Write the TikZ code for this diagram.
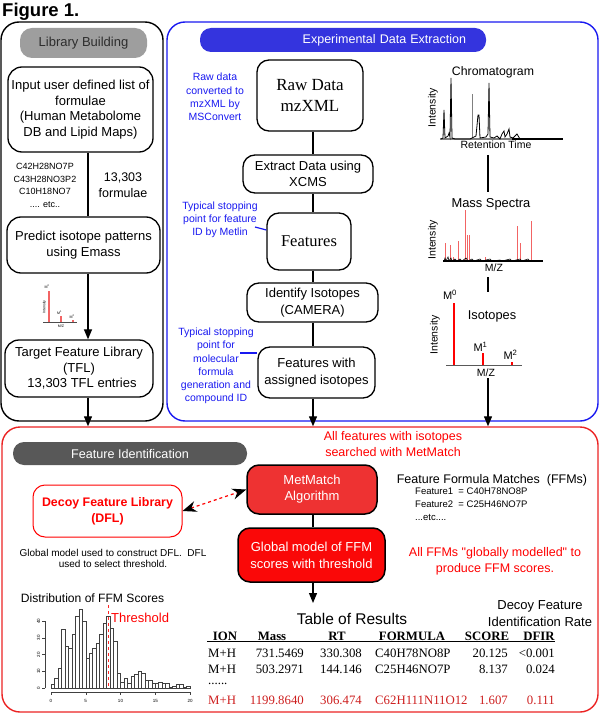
\documentclass[tikz,border=0pt]{standalone}
\usepackage{fontspec}
\setmainfont[Ligatures=TeXOff]{Liberation Sans}
\newfontfamily\timesf{Liberation Serif}
\usetikzlibrary{arrows.meta}
\newcommand\fsz[2]{\fontsize{#1}{#2}\selectfont}
\definecolor{pblue}{RGB}{25,25,240}
\definecolor{pillblue}{RGB}{52,52,222}
\definecolor{pred}{RGB}{235,35,35}
\definecolor{mmred}{RGB}{238,50,50}
\definecolor{gmred}{RGB}{250,8,8}
\definecolor{pinkred}{RGB}{242,100,100}
\definecolor{rowred}{RGB}{205,30,30}
\definecolor{pillgray}{RGB}{158,158,158}
\definecolor{darkpill}{RGB}{88,88,88}
\begin{document}
\begin{tikzpicture}[x=1pt,y=-1pt,
  panel/.style={draw, rounded corners=18pt, line width=1.4pt, inner sep=0pt},
  bx/.style={draw, line width=1.3pt, rounded corners=12pt, align=center, inner sep=0pt},
  conn/.style={line width=1.2pt},
  arr/.style={line width=1.2pt, -{Triangle[width=8pt,length=10pt]}},
  btxt/.style={text=pblue, align=center, font=\fsz{10.5}{13.2}},
  lbl/.style={align=center, inner sep=0pt},
  th/.style={font=\timesf\bfseries\fsz{12.8}{14}, inner sep=0pt},
  td/.style={font=\timesf\fsz{12.8}{14}, inner sep=0pt},
  tiny/.style={font=\fsz{3.6}{4}, inner sep=0pt}
]
\useasboundingbox (0,0) rectangle (600,714);

% title
\node[font=\bfseries\fsz{18.5}{20}, anchor=west, inner sep=0pt] (title) at (2,11.5) {Figure 1.};

% panels
\node[panel, minimum width=162, minimum height=399] (lp) at (82,221.5) {};
\node[panel, draw=pblue, minimum width=431, minimum height=399] (bp) at (382.5,221.5) {};
\node[panel, draw=pred, minimum width=596, minimum height=285] (redp) at (300,569.5) {};

% ---------------- Library building ----------------
\node[fill=pillgray, text={rgb,255:red,45;green,45;blue,45}, rounded corners=12pt, minimum width=127, minimum height=30, inner sep=0pt, font=\fsz{13}{15}] (lb) at (83.5,43) {Library Building};
\node[bx, minimum width=145, minimum height=85, rounded corners=14pt, font=\fsz{13}{15.5}] (inp) at (80.5,109.5) {Input user defined list of\\formulae\\(Human Metabolome\\DB and Lipid Maps)};
\node[lbl, font=\fsz{9}{12.8}] (flist) at (45,185.5) {C42H28NO7P\\C43H28NO3P2\\C10H18NO7\\.... etc..};
\node[lbl, font=\fsz{12.5}{15.5}] (n13) at (123,185) {13,303\\formulae};
\node[bx, minimum width=153, minimum height=56, rounded corners=14pt, font=\fsz{13}{16.5}] (pred) at (83.5,245) {Predict isotope patterns\\using Emass};
\node[bx, minimum width=148, minimum height=57, rounded corners=14pt, font=\fsz{13}{15.5}] (tfl) at (79,368.5) {Target Feature Library\\(TFL)\\\hspace*{6pt}13,303 TFL entries};
\coordinate (c1) at (88,0);
\draw[conn] (inp.south -| c1) -- (pred.north -| c1);
\draw[arr] (pred.south -| c1) -- (tfl.north -| c1);
\draw[arr] (tfl.south -| c1) -- (redp.north -| c1);

% mini isotope plot
\draw[line width=0.4pt, gray!60!black] (43,322) -- (77,322);
\draw[pinkred, line width=1.1pt] (49,322) -- (49,291);
\draw[pinkred, line width=1.1pt] (61,322) -- (61,316);
\draw[pinkred, line width=1.1pt] (73,322) -- (73,320);
\node[tiny, rotate=90] (mi1) at (44.5,307) {Intensity};
\node[tiny] (mi2) at (61,326) {M/Z};
\node[tiny] (mi3) at (47,287) {M\textsuperscript{0}};
\node[tiny] (mi4) at (59.5,312.5) {M\textsuperscript{1}};
\node[tiny] (mi5) at (72,316.5) {M\textsuperscript{2}};

% ---------------- Experimental data extraction ----------------
\node[fill=pillblue, text=white, rounded corners=11pt, minimum height=24, text width=246pt, inner xsep=20pt, inner ysep=0pt, align=right, font=\fsz{12.5}{14}] (ede) at (343,40) {Experimental Data Extraction};
\node[bx, minimum width=106, minimum height=71, font=\timesf\fsz{17}{21}] (raw) at (310,95.5) {Raw Data\\mzXML};
\node[bx, minimum width=130, minimum height=38, font=\fsz{13}{16}] (xcms) at (308,174) {Extract Data using\\XCMS};
\node[bx, minimum width=84, minimum height=57, font=\timesf\fsz{16.5}{18}] (feat) at (309,241.5) {Features};
\node[bx, minimum width=131, minimum height=39, font=\fsz{13}{16.5}] (iso) at (312.5,302.5) {Identify Isotopes\\(CAMERA)};
\node[bx, minimum width=117, minimum height=51, font=\fsz{13}{16.5}] (fwi) at (316.5,372.5) {Features with\\assigned isotopes};
\coordinate (c2) at (313,0);
\draw[conn] (raw.south -| c2) -- (xcms.north -| c2);
\draw[conn] (xcms.south -| c2) -- (feat.north -| c2);
\draw[conn] (feat.south -| c2) -- (iso.north -| c2);
\draw[conn] (iso.south -| c2) -- (fwi.north -| c2);
\draw[arr] (fwi.south -| c2) -- (redp.north -| c2);

\node[btxt] (bt1) at (215,97) {Raw data\\converted to\\mzXML by\\MSConvert};
\node[btxt] (bt2) at (220,220) {Typical stopping\\point for feature\\ID by Metlin};
\node[btxt] (bt3) at (216,366) {Typical stopping\\point for\\molecular\\formula\\generation and\\compound ID};
\coordinate (b1) at (255,227);
\coordinate (b2) at (240,353);
\draw[pblue, line width=1.2pt] (b1) -- ([yshift=11.5pt]feat.west);
\draw[pblue, line width=1.2pt] (b2) -- (b2 -| fwi.west);

% chromatogram
\node[lbl, font=\fsz{12.3}{14}] (chrom) at (493,72) {Chromatogram};
\node[lbl, font=\fsz{10.5}{12}, rotate=90] (ci) at (433,108) {Intensity};
\node[lbl, font=\fsz{10.5}{12}] (crt) at (496,145) {Retention Time};
\draw[gray, line width=1.2pt] (440,139) -- (512,139);
\draw[line width=1.3pt] (512,139) -- (563,139);
\draw[gray, line width=1pt] (472,139) -- (472,94);
\draw[line width=0.8pt] plot coordinates {(441,139) (443,138) (444,110) (445,138) (448,136) (449,133) (450,137) (451,78) (452,138) (455,139) (470,139) (474,137) (476,136) (478,115) (479,115) (480,138) (486,137) (488,134) (489,83) (490,137) (494,138) (497,136) (500,139) (502,134) (504,131) (505,137) (507,134) (509,129) (510,137) (513,138) (517,134) (520,139)};

\coordinate (ch1) at (488,155);
\coordinate (ch2) at (488,192);
\draw[conn] (ch1) -- (ch2);

% mass spectra
\node[lbl, font=\fsz{12.9}{14}] (msp) at (491,204) {Mass Spectra};
\node[lbl, font=\fsz{10.5}{12}, rotate=90] (mi) at (433,240) {Intensity};
\node[lbl, font=\fsz{10.5}{12}] (mmz) at (494,268) {M/Z};
\foreach \xx/\yy in {445/243, 450/245, 453/257, 458/241, 465/210, 467/235, 469/235, 485/257, 517/226, 520/243, 531/221}
  \draw[pinkred, line width=0.8pt] (\xx,261) -- (\xx,\yy);
\draw[line width=1.3pt] (443,261) -- (543,261);
\draw[line width=0.6pt] plot coordinates {(444,261) (445,258) (446,261) (448,257) (449,261) (451,258) (452,261) (455,259) (457,261) (460,259) (462,261) (466,258) (468,261) (472,259) (474,261) (480,259) (482,261) (490,259) (492,261) (500,260) (502,261) (510,259) (512,261) (520,259) (522,261) (528,259) (530,261)};

\coordinate (ms1) at (488,277);
\coordinate (ms2) at (488,292);
\draw[conn] (ms1) -- (ms2);

% isotopes
\node[lbl, font=\fsz{12.8}{14}] (isol) at (492,316) {Isotopes};
\node[lbl, font=\fsz{10.5}{12}, rotate=90] (ii) at (435,335) {Intensity};
\node[lbl, font=\fsz{10.5}{12}] (imz) at (486,373) {M/Z};
\draw[gray!70!black, line width=0.8pt] (446,365) -- (522,365);
\draw[red, line width=2.6pt] (454,365) -- (454,303);
\draw[red, line width=2.6pt] (483,365) -- (483,353);
\draw[red, line width=2.6pt] (512,365) -- (512,362);
\node[lbl, font=\fsz{11}{12}] (m0) at (450,295) {M\textsuperscript{0}};
\node[lbl, font=\fsz{11}{12}] (m1) at (480.5,347) {M\textsuperscript{1}};
\node[lbl, font=\fsz{11}{12}] (m2) at (510.5,355) {M\textsuperscript{2}};

\coordinate (is1) at (488,378);
\draw[arr] (is1) -- (is1 |- redp.north);

% ---------------- Feature identification ----------------
\node[fill=darkpill, text=white, rounded corners=11pt, minimum width=234, minimum height=23, inner sep=0pt, font=\fsz{12.6}{14}] (fid) at (130,453.5) {Feature Identification};
\node[lbl, text=red, font=\fsz{12.5}{16}] (allf) at (393,444) {All features with isotopes\\searched with MetMatch};
\node[bx, fill=mmred, text=white, line width=1.5pt, minimum width=130, minimum height=49, font=\fsz{13}{16}] (mm) at (312,489.5) {MetMatch\\Algorithm};
\node[bx, fill=gmred, text=white, line width=1.5pt, minimum width=147, minimum height=54, font=\fsz{13}{17}] (gm) at (311.5,555) {Global model of FFM\\scores with threshold};
\node[bx, draw=red, line width=1pt, fill=white, text=red, minimum width=149, minimum height=52, font=\bfseries\fsz{12.4}{16}] (dfl) at (107.5,511) {Decoy Feature Library\\(DFL)};
\draw[red, dashed, line width=1.2pt, {Stealth[color=black,length=14pt,width=11pt]}-{Stealth[color=black,length=14pt,width=11pt]}] (dfl.east) -- (mm.west);
\draw[conn] (mm.south -| c2) -- (gm.north -| c2);
\coordinate (tr) at (313,603);
\draw[arr] (gm.south -| c2) -- (tr);

\node[lbl, font=\fsz{10}{11.5}] (dfld) at (113,558.5) {Global model used to construct DFL.\ \ DFL\\used to select threshold.};
\node[lbl, font=\fsz{12.5}{14}] (ffm) at (492,480) {Feature Formula Matches\ \ (FFMs)};
\node[lbl, anchor=west, align=left, font=\fsz{9.5}{13}] (ffl) at (415,504) {Feature1\ \ = C40H78NO8P\\Feature2\ \ = C25H46NO7P\\...etc....};
\node[lbl, text=red, font=\fsz{12.5}{16}] (allffm) at (495,561) {All FFMs "globally modelled" to\\produce FFM scores.};

% histogram
\node[lbl, font=\fsz{12.1}{14}] (dist) at (92.5,598) {Distribution of FFM Scores};
\foreach \h [count=\i from 0] in {2.4,6,12,35,25,24,32,43,47,40,18,21,24,27,32,39,43,36,28,9,3.4,6,3,7,8,10,9,4.4,4.4,3,3,3.4,3,3,0.6,1,2.4,2.4,0.4,1}
  \draw[line width=0.5pt, black!75] ({51+\i*3.475},688) rectangle ({51+(\i+1)*3.475},{688-\h*1.667});
\draw[line width=0.4pt, black!75] (45,688) -- (45,621.3);
\foreach \v in {0,10,20,30,40} {
  \draw[line width=0.4pt, black!75] (45,{688-\v*1.667}) -- (42,{688-\v*1.667});
  \node[font=\fsz{4.5}{5}, rotate=90, inner sep=0pt] at (38.5,{688-\v*1.667}) {\v};
}
\draw[line width=0.4pt, black!75] (51,692) -- (190,692);
\foreach \v in {0,5,10,15,20} {
  \draw[line width=0.4pt, black!75] ({51+\v*6.95},692) -- ({51+\v*6.95},695);
  \node[font=\fsz{4.5}{5}, inner sep=0pt] at ({51+\v*6.95},701) {\v};
}
\draw[red!85, dashed, line width=0.9pt] (108,605) -- (108,688);
\node[lbl, anchor=west, text=red, font=\fsz{13}{15}] (thr) at (111,618) {Threshold};

% table
\node[lbl, font=\fsz{15.5}{17}] (tor) at (352,619) {Table of Results};
\node[lbl, font=\fsz{13}{17}] (dfir) at (540,613.5) {Decoy Feature\\Identification Rate};
\node[th] (h1) at (225,636) {ION};
\node[th] (h2) at (272,636) {Mass};
\node[th] (h3) at (337,636) {RT};
\node[th] (h4) at (412,636) {FORMULA};
\node[th] (h5) at (487,636) {SCORE};
\node[th] (h6) at (539,636) {DFIR};
\draw[line width=0.8pt] (207,641.5) -- (555,641.5);

\node[td, anchor=west] (a1) at (208,653) {M+H};
\node[td, anchor=east] (a2) at (304,653) {731.5469};
\node[td, anchor=east] (a3) at (362,653) {330.308};
\node[td, anchor=west] (a4) at (375,653) {C40H78NO8P};
\node[td, anchor=east] (a5) at (508,653) {20.125};
\node[td, anchor=east] (a6) at (555,653) {<0.001};

\node[td, anchor=west] (b1n) at (208,669) {M+H};
\node[td, anchor=east] (b2n) at (304,669) {503.2971};
\node[td, anchor=east] (b3n) at (362,669) {144.146};
\node[td, anchor=west] (b4n) at (375,669) {C25H46NO7P};
\node[td, anchor=east] (b5n) at (508,669) {8.137};
\node[td, anchor=east] (b6n) at (555,669) {0.024};

\node[td, anchor=west] (dots) at (208,684) {......};

\node[td, anchor=west, text=rowred] (c1n) at (208,700) {M+H};
\node[td, anchor=east, text=rowred] (c2n) at (304,700) {1199.8640};
\node[td, anchor=east, text=rowred] (c3n) at (362,700) {306.474};
\node[td, anchor=west, text=rowred] (c4n) at (375,700) {C62H111N11O12};
\node[td, anchor=east, text=rowred] (c5n) at (508,700) {1.607};
\node[td, anchor=east, text=rowred] (c6n) at (555,700) {0.111};
\end{tikzpicture}
\end{document}
